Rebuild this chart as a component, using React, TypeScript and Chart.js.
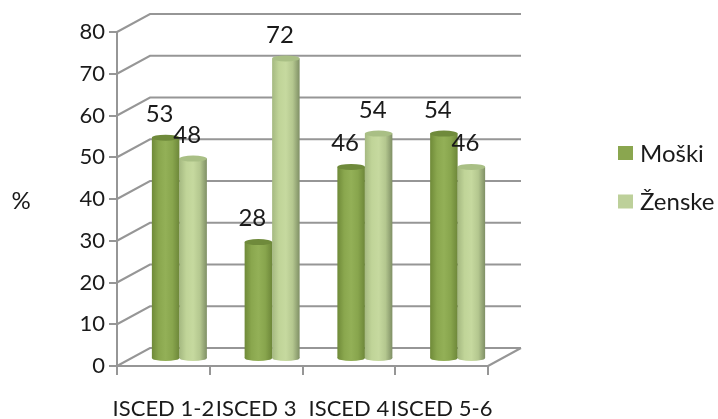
import React, { useEffect, useRef } from "react";
import { Chart, registerables } from "chart.js";

Chart.register(...registerables);

const categories = ["ISCED 1-2", "ISCED 3", "ISCED 4", "ISCED 5-6"];
const moski = [53, 28, 46, 54];
const zenske = [48, 72, 54, 46];
const seriesNames = ["Moški", "Ženske"];
const yTitle = "%";

const FONT = "Lato, 'Noto Sans', sans-serif";
const TEXT = "#1a1a1a";
const GRID = "#969696";
const DEPTH_X = 33;
const DEPTH_Y = 18;
const BAR_DX = 16;
const BAR_DY = 7;

const stops = [
  { base: "#8aa64f", top: "#6f8a3b", s: ["#6f8a38", "#8aa74e", "#93b057", "#88a54d", "#6d8739"] },
  { base: "#bdd09a", top: "#a9bf85", s: ["#a5b981", "#c0d498", "#c6d99f", "#b4c78f", "#7f8f65"] },
];

const cylinder = {
  id: "cylinder3d",
  beforeDatasetsDraw(chart: any) {
    const { ctx, chartArea: a, scales } = chart;
    ctx.save();
    ctx.strokeStyle = GRID;
    ctx.lineWidth = 2;
    ctx.beginPath();
    scales.y.ticks.forEach((t: any) => {
      const p = scales.y.getPixelForValue(t.value);
      ctx.moveTo(a.left, p);
      ctx.lineTo(a.left + DEPTH_X, p - DEPTH_Y);
      ctx.lineTo(a.right + DEPTH_X, p - DEPTH_Y);
    });
    const z = scales.y.getPixelForValue(0);
    ctx.moveTo(a.right, z);
    ctx.lineTo(a.right + DEPTH_X, z - DEPTH_Y);
    ctx.stroke();
    ctx.restore();
  },
  beforeDatasetDraw(chart: any, args: any) {
    const { ctx } = chart;
    const st = stops[args.index];
    const meta = args.meta;
    ctx.save();
    ctx.translate(BAR_DX, -BAR_DY);
    meta.data.forEach((el: any) => {
      const half = el.width / 2;
      const g = ctx.createLinearGradient(el.x - half, 0, el.x + half, 0);
      [0, 0.25, 0.5, 0.75, 1].forEach((o, i) => g.addColorStop(o, st.s[i]));
      el.options = Object.assign({}, el.options, { backgroundColor: g });
      ctx.fillStyle = g;
      ctx.beginPath();
      ctx.ellipse(el.x, el.base, half, 3, 0, 0, Math.PI * 2);
      ctx.fill();
    });
  },
  afterDatasetDraw(chart: any, args: any) {
    const { ctx } = chart;
    const st = stops[args.index];
    args.meta.data.forEach((el: any) => {
      ctx.fillStyle = st.top;
      ctx.beginPath();
      ctx.ellipse(el.x, el.y, el.width / 2, 3, 0, 0, Math.PI * 2);
      ctx.fill();
    });
    ctx.restore();
  },
  afterDatasetsDraw(chart: any) {
    const { ctx, chartArea: a } = chart;
    ctx.save();
    ctx.fillStyle = TEXT;
    ctx.font = `24px ${FONT}`;
    ctx.textAlign = "center";
    ctx.textBaseline = "middle";
    chart.data.datasets.forEach((ds: any, i: number) => {
      chart.getDatasetMeta(i).data.forEach((el: any, j: number) => {
        ctx.fillText(String(ds.data[j]), el.x + 10, el.y - BAR_DY - 23.5);
      });
    });
    ctx.fillText(yTitle, 21, (a.top + a.bottom) / 2 + 2);
    // legend, laid out from the dataset names and colours
    ctx.textAlign = "left";
    chart.data.datasets.forEach((ds: any, i: number) => {
      const cy = 153 + i * 48.5;
      ctx.fillStyle = ds.backgroundColor;
      ctx.fillRect(a.right + 130, cy - 7, 15, 14);
      ctx.fillStyle = TEXT;
      ctx.fillText(ds.label, a.right + 152, cy + 1);
    });
    ctx.restore();
  },
};

export default function App() {
  const ref = useRef<HTMLCanvasElement>(null);
  useEffect(() => {
    const tickFont = { family: FONT, size: 22 };
    const chart = new Chart(ref.current as HTMLCanvasElement, {
      type: "bar",
      data: {
        labels: categories,
        datasets: [
          { label: seriesNames[0], data: moski, backgroundColor: stops[0].base, clip: false } as any,
          { label: seriesNames[1], data: zenske, backgroundColor: stops[1].base, clip: false } as any,
        ],
      },
      options: {
        responsive: false,
        animation: false,
        layout: { padding: { top: 32, right: 230, left: 0, bottom: 0 } },
        datasets: { bar: { categoryPercentage: 0.593, barPercentage: 1, borderWidth: 0 } },
        plugins: {
          tooltip: { enabled: false },
          legend: { display: false },
        },
        scales: {
          x: {
            grid: { drawOnChartArea: false, drawTicks: true, color: GRID, lineWidth: 2, tickLength: 9, offset: true },
            border: { color: GRID, width: 2 },
            ticks: { color: TEXT, font: tickFont, maxRotation: 0, autoSkip: false, padding: 21 },
            afterFit: (s: any) => { s.height = 53; },
          },
          y: {
            min: 0,
            max: 80,
            grid: { drawOnChartArea: false, drawTicks: true, color: GRID, lineWidth: 2, tickLength: 8 },
            border: { color: GRID, width: 2 },
            ticks: { stepSize: 10, color: TEXT, font: tickFont, padding: 4 },
            afterFit: (s: any) => { s.width = 117; },
          },
        },
      },
      plugins: [cylinder],
    } as any);
    return () => chart.destroy();
  }, []);
  return (
    <div style={{ position: "absolute", left: 0, top: 0, width: 718, height: 419, background: "#fff" }}>
      <canvas ref={ref} width={718} height={419} style={{ display: "block", filter: "blur(0.5px)" }} />
    </div>
  );
}
